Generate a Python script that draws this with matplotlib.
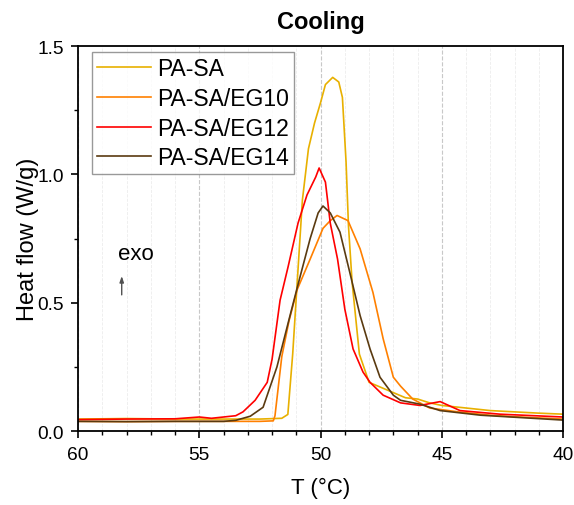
import numpy as np
import matplotlib.pyplot as plt
from matplotlib.ticker import MultipleLocator

plt.rcParams['font.family'] = ['Liberation Sans', 'DejaVu Sans']

# Données (T en °C, flux en W/g)
t_pasa = [60, 58, 56, 54, 52.5, 51.6, 51.35, 51.15, 50.95, 50.75, 50.5, 50.25, 50.0, 49.8, 49.5,
          49.25, 49.1, 48.95, 48.85, 48.7, 48.4, 48.0, 47.5, 47.0, 46.5, 46.0, 45.5, 45.0, 44.0,
          43.0, 42.0, 41.0, 40.0]
y_pasa = [0.047, 0.049, 0.047, 0.047, 0.047, 0.05, 0.065, 0.3, 0.6, 0.9, 1.1, 1.2, 1.28, 1.35, 1.378,
          1.36, 1.3, 1.05, 0.8, 0.58, 0.3, 0.19, 0.17, 0.15, 0.13, 0.125, 0.11, 0.1, 0.09,
          0.08, 0.075, 0.07, 0.066]

t_eg10 = [60, 58, 56, 54, 52.5, 51.95, 51.88, 51.6, 51.3, 50.97, 50.43, 49.9, 49.6, 49.32, 48.87,
          48.37, 47.84, 47.42, 47.0, 46.7, 46.2, 45.5, 44.25, 43.0, 42.0, 40.0]
y_eg10 = [0.038, 0.037, 0.038, 0.038, 0.038, 0.04, 0.06, 0.29, 0.43, 0.55, 0.67, 0.79, 0.82, 0.84, 0.82,
          0.71, 0.54, 0.36, 0.21, 0.175, 0.125, 0.09, 0.074, 0.062, 0.056, 0.047]

t_eg12 = [60, 58, 56, 55, 54.5, 54, 53.5, 53.2, 52.7, 52.2, 52.0, 51.67, 51.34, 50.93, 50.56, 50.2,
          50.06, 49.8, 49.6, 49.3, 49.0, 48.66, 48.25, 47.96, 47.42, 46.7, 45.9, 45.07, 44.25,
          42.6, 40.0]
y_eg12 = [0.045, 0.047, 0.048, 0.055, 0.05, 0.055, 0.06, 0.075, 0.12, 0.19, 0.28, 0.51, 0.64, 0.81, 0.92, 0.99,
          1.025, 0.97, 0.81, 0.67, 0.475, 0.32, 0.23, 0.19, 0.14, 0.11, 0.1, 0.115, 0.08,
          0.066, 0.055]

t_eg14 = [60, 58, 56, 54, 53.5, 52.9, 52.37, 51.8, 51.26, 50.85, 50.43, 50.1, 49.9, 49.6, 49.2,
          48.8, 48.37, 47.96, 47.55, 47.0, 46.7, 45.9, 45.07, 43.4, 40.0]
y_eg14 = [0.038, 0.037, 0.038, 0.038, 0.042, 0.058, 0.093, 0.25, 0.45, 0.6, 0.75, 0.85, 0.877, 0.85, 0.775,
          0.62, 0.45, 0.32, 0.21, 0.14, 0.12, 0.105, 0.08, 0.062, 0.043]

fig = plt.figure(figsize=(5.74, 5.06), dpi=100)
ax = fig.add_axes([0.136, 0.146, 0.845, 0.761])

ax.plot(t_pasa, y_pasa, color='#e8b000', lw=1.2, label='PA-SA')
ax.plot(t_eg10, y_eg10, color='#ff8000', lw=1.2, label='PA-SA/EG10')
ax.plot(t_eg12, y_eg12, color='#ff0000', lw=1.2, label='PA-SA/EG12')
ax.plot(t_eg14, y_eg14, color='#5a3a10', lw=1.2, label='PA-SA/EG14')

ax.set_xlim(60, 40)
ax.set_ylim(0, 1.5)
ax.xaxis.set_major_locator(MultipleLocator(5))
ax.xaxis.set_minor_locator(MultipleLocator(1))
ax.yaxis.set_major_locator(MultipleLocator(0.5))
ax.yaxis.set_minor_locator(MultipleLocator(0.25))
ax.tick_params(which='major', direction='out', length=5, width=1.2, labelsize=13.8)
ax.tick_params(axis='x', which='major', pad=6)
ax.tick_params(axis='y', which='major', pad=5)
ax.tick_params(which='minor', direction='out', length=3, width=1)
ax.tick_params(axis='both', which='both', top=False, right=False)
for s in ax.spines.values():
    s.set_linewidth(1.3)

# grille verticale seulement
ax.grid(axis='x', which='major', linestyle='--', color='#c8c8c8', linewidth=0.8)
ax.grid(axis='x', which='minor', linestyle='--', color='#ededed', linewidth=0.6)

ax.set_xlabel('T (°C)', fontsize=16, labelpad=10)
ax.set_ylabel('Heat flow (W/g)', fontsize=17, labelpad=-1)
ax.set_title('Cooling', fontsize=17, fontweight='bold', pad=13)

leg = ax.legend(loc='upper left', bbox_to_anchor=(0.029, 0.984), borderaxespad=0,
                fontsize=16.5, frameon=True, fancybox=False,
                handlelength=2.35, labelspacing=0.3, handletextpad=0.3, borderpad=0.2)
leg.get_frame().set_edgecolor('#808080')
leg.get_frame().set_linewidth(1)

ax.text(57.6, 0.69, 'exo', fontsize=16, ha='center', va='center')
ax.annotate('', xy=(58.2, 0.615), xytext=(58.2, 0.52),
            arrowprops=dict(arrowstyle='-|>,head_width=0.12,head_length=0.35', color='#505050', lw=1))

fig.savefig('out.png', dpi=100)
